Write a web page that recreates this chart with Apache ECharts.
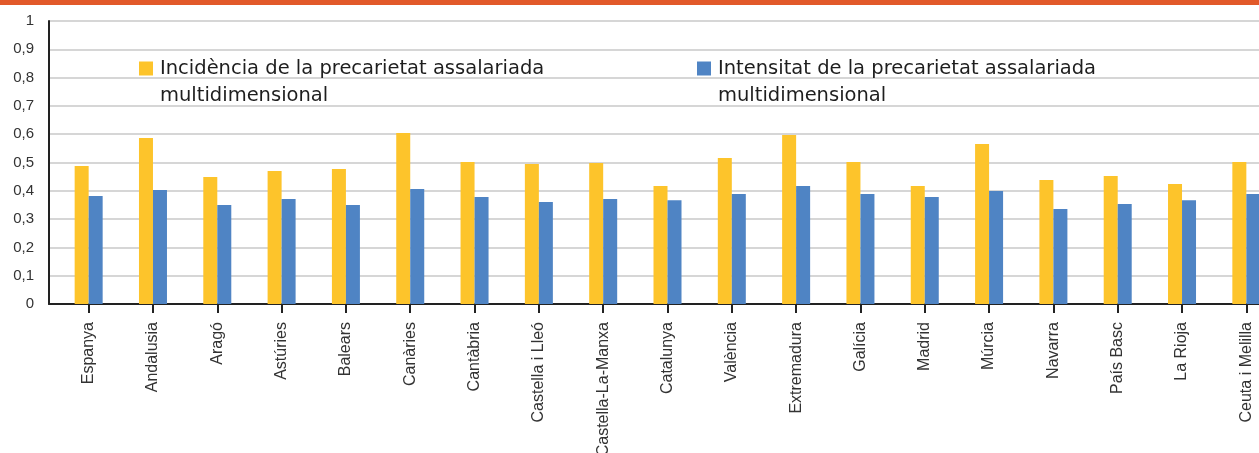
<!DOCTYPE html>
<html lang="ca">
<head>
  <meta charset="UTF-8">
  <title>Precarietat assalariada multidimensional</title>
  <style>
    html, body { margin: 0; padding: 0; background: #fff; }
    #echart { width: 1259px; height: 453px; }
  </style>
</head>
<body>
  <div id="echart"></div>
  <script src="https://cdn.jsdelivr.net/npm/echarts@6/dist/echarts.min.js"></script>
  <script>
    // comunitats
    var categories = ['Espanya', 'Andalusia', 'Aragó', 'Astúries', 'Balears', 'Canàries', 'Cantàbria',
      'Castella i Lleó', 'Castella-La-Manxa', 'Catalunya', 'València', 'Extremadura', 'Galícia',
      'Madrid', 'Múrcia', 'Navarra', 'País Basc', 'La Rioja', 'Ceuta i Melilla'];
    // incidència
    var incidencia = [0.488, 0.587, 0.449, 0.470, 0.477, 0.604, 0.502, 0.495, 0.498, 0.417,
      0.516, 0.597, 0.502, 0.417, 0.565, 0.438, 0.452, 0.424, 0.502];
    // intensitat
    var intensitat = [0.382, 0.403, 0.350, 0.371, 0.350, 0.406, 0.378, 0.360, 0.371, 0.367,
      0.389, 0.417, 0.389, 0.378, 0.399, 0.336, 0.353, 0.367, 0.389];
    var nomIncidencia = 'Incidència de la precarietat assalariada\nmultidimensional';
    var nomIntensitat = 'Intensitat de la precarietat assalariada\nmultidimensional';

    var font = 'Liberation Sans, Arial, Helvetica, sans-serif';
    var legendText = {
      fontFamily: 'DejaVu Sans, sans-serif', fontSize: 19.5, color: '#1e1e1e', lineHeight: 27,
      padding: [0, 0, 0, 2]
    };
    // linia buida al davant perque el quadre quedi a l'altura de la primera linia
    var legendFormat = function (name) { return ' \n' + name; };

    var option = {
      animation: false,
      graphic: [{
        type: 'rect', left: 0, top: 0,
        shape: { width: 1259, height: 5 },
        style: { fill: '#e2592a' }
      }],
      legend: [{
        data: [nomIncidencia], left: 139, top: 28, padding: 0,
        itemWidth: 14, itemHeight: 14, icon: 'rect',
        formatter: legendFormat, textStyle: legendText
      }, {
        data: [nomIntensitat], left: 697, top: 28, padding: 0,
        itemWidth: 14, itemHeight: 14, icon: 'rect',
        formatter: legendFormat, textStyle: legendText
      }],
      grid: [
        { left: 49, top: 21, right: 0, height: 283, outerBoundsMode: 'none' },
        { left: 56.5, top: 21, width: 1222, height: 283, outerBoundsMode: 'none' }
      ],
      xAxis: [{
        gridIndex: 0, type: 'value', min: 0, max: 1,
        axisLine: { show: true, lineStyle: { color: '#222', width: 2 } },
        axisTick: { show: false }, axisLabel: { show: false }, splitLine: { show: false }
      }, {
        gridIndex: 1, type: 'category', data: categories,
        axisLine: { show: false },
        axisTick: { show: true, alignWithLabel: true, length: 9, lineStyle: { color: '#222', width: 2 } },
        axisLabel: {
          rotate: 90, interval: 0, margin: 18,
          fontFamily: font, fontSize: 16, color: '#333'
        },
        splitLine: { show: false }
      }],
      yAxis: [{
        gridIndex: 0, type: 'value', min: 0, max: 1, interval: 0.1,
        axisLine: { show: true, lineStyle: { color: '#222', width: 2 } },
        axisTick: { show: false },
        axisLabel: {
          margin: 15, fontFamily: font, fontSize: 15, color: '#333',
          formatter: function (v) { return v === 0 || v === 1 ? String(v) : v.toFixed(1).replace('.', ','); }
        },
        splitLine: { lineStyle: { color: '#d6d6d6', width: 2 } }
      }, {
        gridIndex: 1, type: 'value', min: 0, max: 1, show: false
      }],
      series: [{
        name: nomIncidencia, type: 'bar', xAxisIndex: 1, yAxisIndex: 1,
        data: incidencia, barWidth: 14, barGap: 0,
        itemStyle: { color: '#fdc42b' }
      }, {
        name: nomIntensitat, type: 'bar', xAxisIndex: 1, yAxisIndex: 1,
        data: intensitat, barWidth: 14, barGap: 0,
        itemStyle: { color: '#4f84c4' }
      }]
    };

    var myChart = echarts.init(document.getElementById('echart'));
    myChart.setOption(option);
  </script>
</body>
</html>
